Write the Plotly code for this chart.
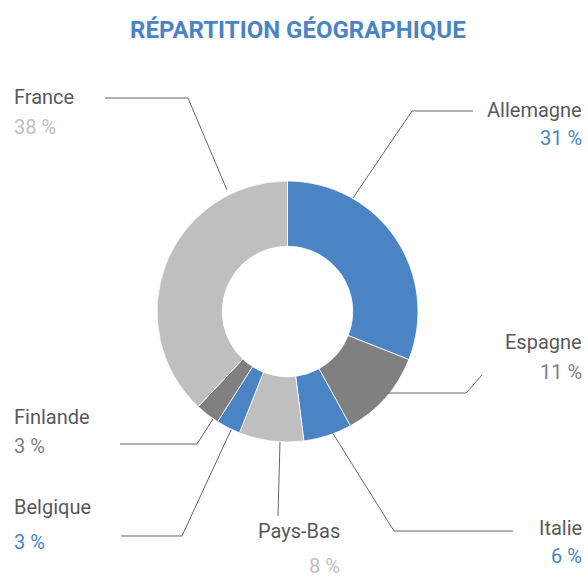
import plotly.graph_objects as go

# ---- data ----
countries = ["Allemagne", "Espagne", "Italie", "Pays-Bas", "Belgique", "Finlande", "France"]
shares = [31, 11, 6, 8, 3, 3, 38]
slice_colors = ["#4A84C4", "#808080", "#4A84C4", "#BFBFBF", "#4A84C4", "#808080", "#BFBFBF"]
title_text = "RÉPARTITION GÉOGRAPHIQUE"

W, H = 588, 577
FONT = "Roboto, Liberation Sans, Arial, sans-serif"
LABEL_COLOR = "#595959"
LINE_COLOR = "#666666"

def px(x):
    return x / W

def py(y):
    return 1 - y / H

# layout: label anchor (x, y of name line, anchor side) and leader polyline (pixels)
label_layout = {
    "Allemagne": dict(x=584, y=110, side="right", line=[(353, 198), (412, 111), (473, 111)]),
    "Espagne": dict(x=584, y=342, side="right", line=[(387, 393), (466, 393), (482, 375)]),
    "Italie": dict(x=584, y=528, side="right", line=[(332, 432), (394, 531), (513, 531)]),
    "Pays-Bas": dict(x=342, y=531, side="right", line=[(280, 442), (278, 516)]),
    "Belgique": dict(x=12, y=507, side="left", line=[(231, 430), (182, 536), (121, 536)]),
    "Finlande": dict(x=12, y=417, side="left", line=[(213, 419), (197, 444), (120, 444)]),
    "France": dict(x=12, y=97, side="left", line=[(227, 190), (188, 98), (105, 98)]),
}
pct_offset = {"Pays-Bas": 35, "Belgique": 35, "Finlande": 29, "Allemagne": 28, "Italie": 28}

fig = go.Figure()
fig.add_trace(go.Pie(
    labels=countries,
    values=shares,
    marker=dict(colors=slice_colors, line=dict(color="white", width=0.8)),
    hole=0.5,
    sort=False,
    direction="clockwise",
    rotation=0,
    textinfo="none",
    hoverinfo="label+percent",
    showlegend=False,
    domain=dict(x=[px(157), px(418)], y=[py(442), py(181)]),
))

annotations = [dict(
    text=f"<b>{title_text}</b>", x=px(298), y=py(30), xref="paper", yref="paper",
    xanchor="center", yanchor="middle", showarrow=False,
    font=dict(family=FONT, size=24, color="#4A84C4"),
)]
shapes = []
for name, val, col in zip(countries, shares, slice_colors):
    L = label_layout[name]
    annotations.append(dict(
        text=name, x=px(L["x"]), y=py(L["y"]), xref="paper", yref="paper",
        xanchor=L["side"], yanchor="middle", showarrow=False,
        font=dict(family=FONT, size=20, color=LABEL_COLOR),
    ))
    annotations.append(dict(
        text=f"{val} %", x=px(L["x"]), y=py(L["y"] + pct_offset.get(name, 30)),
        xref="paper", yref="paper",
        xanchor=L["side"], yanchor="middle", showarrow=False,
        font=dict(family=FONT, size=20, color=col),
    ))
    pts = L["line"]
    path = "M " + " L ".join(f"{px(a):.5f},{py(b):.5f}" for a, b in pts)
    shapes.append(dict(type="path", path=path, xref="paper", yref="paper",
                       line=dict(color=LINE_COLOR, width=1)))

fig.update_layout(
    width=W, height=H,
    margin=dict(l=0, r=0, t=0, b=0),
    paper_bgcolor="white", plot_bgcolor="white",
    annotations=annotations, shapes=shapes,
)
fig.write_html(
    "out.html",
    config={"displayModeBar": False},
    post_script="document.body.style.margin='0';document.body.style.overflow='hidden';",
)
